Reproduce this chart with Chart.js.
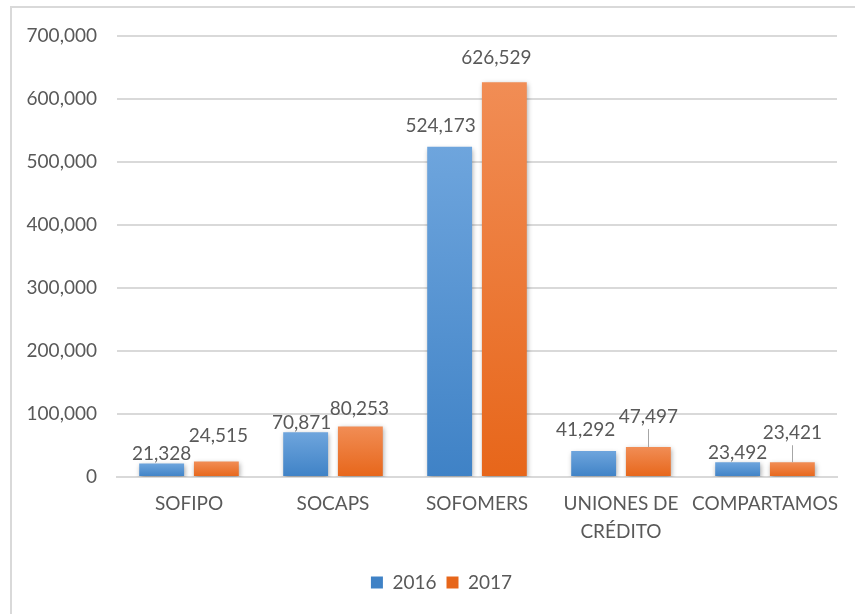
<!DOCTYPE html>
<html>
<head>
<meta charset="utf-8">
<script src="https://cdn.jsdelivr.net/npm/chart.js@4"></script>
<style>
  html, body { margin: 0; padding: 0; background: #fff; overflow: hidden; }
  #wrap { width: 855px; height: 614px; position: relative; }
</style>
</head>
<body>
<div id="wrap"><canvas id="chart"></canvas></div>
<script>
const categories = ["SOFIPO", "SOCAPS", "SOFOMERS", ["UNIONES DE", "CRÉDITO"], "COMPARTAMOS"];
const seriesNames = ["2016", "2017"];
const values2016 = [21328, 70871, 524173, 41292, 23492];
const values2017 = [24515, 80253, 626529, 47497, 23421];
const yTicks = [0, 100000, 200000, 300000, 400000, 500000, 600000, 700000];

// label placement relative to bar top: [dx, dy above top, leader line]
const labelPos2016 = [[0, 10], [-4, 9], [-9, 21], [-8, 21], [0, 9]];
const labelPos2017 = [[2, 26], [-1, 18], [-8, 24], [0, 30, true], [0, 29, true]];

const FONT = "Lato, 'Liberation Sans', sans-serif";
const TEXT = "#595959";

function barGradient(light, dark) {
  return function(ctx) {
    const chart = ctx.chart;
    const y = chart.scales.y;
    if (!chart.chartArea || !y || ctx.parsed == null) return dark;
    const top = y.getPixelForValue(ctx.parsed.y);
    const bottom = y.getPixelForValue(0);
    if (!isFinite(top) || !isFinite(bottom) || top === bottom) return dark;
    const g = chart.ctx.createLinearGradient(0, top, 0, bottom);
    g.addColorStop(0, light);
    g.addColorStop(1, dark);
    return g;
  };
}

const frame = {
  id: 'frame',
  afterLayout(chart) {
    // legend sits a bit right of the canvas centre in the original
    if (chart.legend) {
      chart.legend.left += 18;
      chart.legend.right += 18;
    }
  },
  beforeDraw(chart) {
    const c = chart.ctx;
    c.save();
    c.strokeStyle = '#d9d9d9';
    c.lineWidth = 2;
    c.beginPath();
    c.moveTo(11, 700);
    c.lineTo(11, 7);
    c.lineTo(900, 7);
    c.stroke();
    c.restore();
  }
};

const shadowAndLabels = {
  id: 'shadowAndLabels',
  beforeDatasetsDraw(chart) {
    const c = chart.ctx;
    c.save();
    c.shadowColor = 'rgba(0,0,0,0.35)';
    c.shadowBlur = 5;
    c.shadowOffsetX = 1;
    c.shadowOffsetY = 2;
  },
  afterDatasetsDraw(chart) {
    const c = chart.ctx;
    c.restore();
    const positions = [labelPos2016, labelPos2017];
    c.save();
    c.font = "19px " + FONT;
    c.fillStyle = TEXT;
    c.textAlign = 'center';
    c.textBaseline = 'middle';
    chart.data.datasets.forEach((ds, di) => {
      const meta = chart.getDatasetMeta(di);
      meta.data.forEach((bar, i) => {
        const p = positions[di][i];
        const x = bar.x + p[0];
        const y = bar.y - p[1];
        c.fillText(ds.data[i].toLocaleString('en-US'), x, y);
        if (p[2]) {
          c.strokeStyle = '#a6a6a6';
          c.lineWidth = 1;
          c.beginPath();
          c.moveTo(Math.round(bar.x) + 0.5, y + 12);
          c.lineTo(Math.round(bar.x) + 0.5, bar.y);
          c.stroke();
        }
      });
    });
    c.restore();
  }
};

new Chart(document.getElementById('chart'), {
  type: 'bar',
  data: {
    labels: categories,
    datasets: [{
      label: seriesNames[0],
      data: values2016,
      backgroundColor: barGradient('#6ea5dd', '#3f82c6'),
      categoryPercentage: 0.76,
      barPercentage: 0.82
    }, {
      label: seriesNames[1],
      data: values2017,
      backgroundColor: barGradient('#f18d55', '#e7661a'),
      categoryPercentage: 0.76,
      barPercentage: 0.82
    }]
  },
  options: {
    responsive: true,
    maintainAspectRatio: false,
    animation: false,
    layout: { padding: { left: 10, right: 18, top: 36, bottom: 12 } },
    plugins: {
      legend: {
        position: 'bottom',
        labels: {
          boxWidth: 12,
          boxHeight: 12,
          padding: 10,
          color: TEXT,
          font: { family: FONT, size: 19 }
        }
      },
      tooltip: { enabled: false }
    },
    scales: {
      x: {
        grid: { display: false, drawTicks: false },
        border: { color: '#d9d9d9', width: 2 },
        ticks: {
          color: TEXT,
          padding: 13,
          maxRotation: 0,
          autoSkip: false,
          font: { family: FONT, size: 19, lineHeight: 1.47 }
        },
        afterFit(s) { s.height = 86; }
      },
      y: {
        min: 0,
        max: 700000,
        afterBuildTicks(s) { s.ticks = yTicks.map(v => ({ value: v })); },
        grid: { color: '#d9d9d9', lineWidth: 2, drawTicks: false },
        border: { display: false },
        ticks: {
          color: TEXT,
          padding: 20,
          font: { family: FONT, size: 19 },
          callback: v => v.toLocaleString('en-US')
        },
        afterFit(s) { s.width = 107; }
      }
    }
  },
  plugins: [frame, shadowAndLabels]
});
</script>
</body>
</html>
